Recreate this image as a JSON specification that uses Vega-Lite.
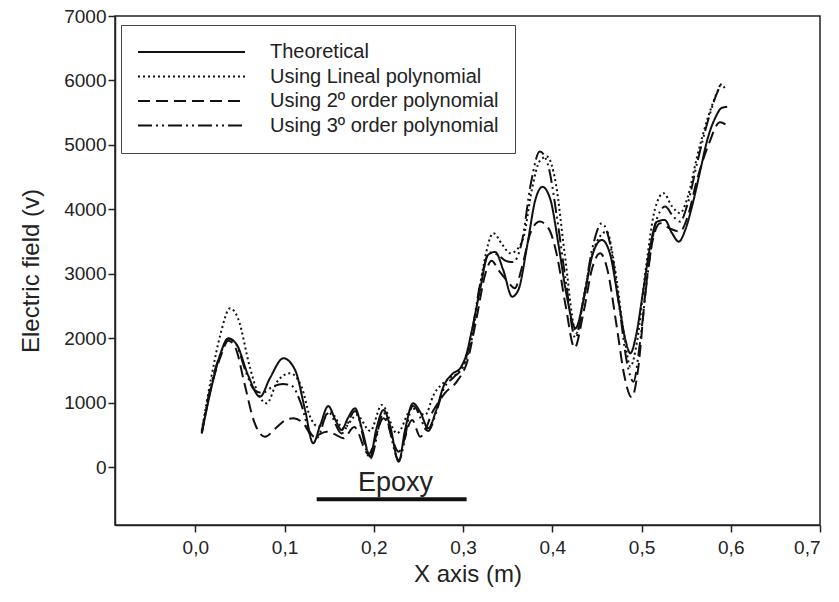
{
  "$schema": "https://vega.github.io/schema/vega-lite/v6.json",
  "width": 705,
  "height": 509,
  "autosize": {"type": "none"},
  "padding": {"left": 115, "top": 16, "right": 19, "bottom": 77},
  "background": "white",
  "config": {
    "font": "Liberation Sans",
    "view": {"stroke": "#222", "strokeWidth": 1.5},
    "axis": {"grid": false, "domainColor": "#222", "domainWidth": 1.5, "tickColor": "#222", "tickWidth": 1.5, "tickSize": 7, "labelColor": "#222", "titleColor": "#222", "labelFontSize": 19, "titleFontSize": 24, "titleFontWeight": "normal", "labelFont": "Liberation Sans", "titleFont": "Liberation Sans"}
  },
  "datasets": {
    "curves": [
      {"x": 0.0072, "y": 523, "s": "Theoretical"},
      {"x": 0.0187, "y": 1273, "s": "Theoretical"},
      {"x": 0.0277, "y": 1739, "s": "Theoretical"},
      {"x": 0.037, "y": 1998, "s": "Theoretical"},
      {"x": 0.0467, "y": 1894, "s": "Theoretical"},
      {"x": 0.059, "y": 1429, "s": "Theoretical"},
      {"x": 0.0725, "y": 1092, "s": "Theoretical"},
      {"x": 0.0837, "y": 1382, "s": "Theoretical"},
      {"x": 0.0987, "y": 1688, "s": "Theoretical"},
      {"x": 0.1118, "y": 1506, "s": "Theoretical"},
      {"x": 0.123, "y": 885, "s": "Theoretical"},
      {"x": 0.132, "y": 368, "s": "Theoretical"},
      {"x": 0.14, "y": 652, "s": "Theoretical"},
      {"x": 0.149, "y": 947, "s": "Theoretical"},
      {"x": 0.157, "y": 730, "s": "Theoretical"},
      {"x": 0.164, "y": 575, "s": "Theoretical"},
      {"x": 0.171, "y": 761, "s": "Theoretical"},
      {"x": 0.179, "y": 911, "s": "Theoretical"},
      {"x": 0.187, "y": 575, "s": "Theoretical"},
      {"x": 0.196, "y": 160, "s": "Theoretical"},
      {"x": 0.2026, "y": 575, "s": "Theoretical"},
      {"x": 0.211, "y": 885, "s": "Theoretical"},
      {"x": 0.218, "y": 652, "s": "Theoretical"},
      {"x": 0.228, "y": 82, "s": "Theoretical"},
      {"x": 0.235, "y": 575, "s": "Theoretical"},
      {"x": 0.244, "y": 989, "s": "Theoretical"},
      {"x": 0.252, "y": 854, "s": "Theoretical"},
      {"x": 0.261, "y": 601, "s": "Theoretical"},
      {"x": 0.27, "y": 885, "s": "Theoretical"},
      {"x": 0.278, "y": 1247, "s": "Theoretical"},
      {"x": 0.288, "y": 1444, "s": "Theoretical"},
      {"x": 0.297, "y": 1537, "s": "Theoretical"},
      {"x": 0.3035, "y": 1739, "s": "Theoretical"},
      {"x": 0.31, "y": 2127, "s": "Theoretical"},
      {"x": 0.319, "y": 2748, "s": "Theoretical"},
      {"x": 0.328, "y": 3292, "s": "Theoretical"},
      {"x": 0.336, "y": 3339, "s": "Theoretical"},
      {"x": 0.345, "y": 3059, "s": "Theoretical"},
      {"x": 0.355, "y": 2644, "s": "Theoretical"},
      {"x": 0.362, "y": 2748, "s": "Theoretical"},
      {"x": 0.372, "y": 3447, "s": "Theoretical"},
      {"x": 0.381, "y": 4146, "s": "Theoretical"},
      {"x": 0.389, "y": 4348, "s": "Theoretical"},
      {"x": 0.398, "y": 4146, "s": "Theoretical"},
      {"x": 0.407, "y": 3447, "s": "Theoretical"},
      {"x": 0.416, "y": 2671, "s": "Theoretical"},
      {"x": 0.426, "y": 2154, "s": "Theoretical"},
      {"x": 0.435, "y": 2593, "s": "Theoretical"},
      {"x": 0.445, "y": 3292, "s": "Theoretical"},
      {"x": 0.4556, "y": 3525, "s": "Theoretical"},
      {"x": 0.465, "y": 3292, "s": "Theoretical"},
      {"x": 0.474, "y": 2593, "s": "Theoretical"},
      {"x": 0.482, "y": 1972, "s": "Theoretical"},
      {"x": 0.4875, "y": 1766, "s": "Theoretical"},
      {"x": 0.494, "y": 2050, "s": "Theoretical"},
      {"x": 0.502, "y": 2748, "s": "Theoretical"},
      {"x": 0.51, "y": 3447, "s": "Theoretical"},
      {"x": 0.517, "y": 3804, "s": "Theoretical"},
      {"x": 0.526, "y": 3835, "s": "Theoretical"},
      {"x": 0.534, "y": 3634, "s": "Theoretical"},
      {"x": 0.5418, "y": 3498, "s": "Theoretical"},
      {"x": 0.549, "y": 3680, "s": "Theoretical"},
      {"x": 0.557, "y": 4068, "s": "Theoretical"},
      {"x": 0.566, "y": 4612, "s": "Theoretical"},
      {"x": 0.5737, "y": 5078, "s": "Theoretical"},
      {"x": 0.5826, "y": 5419, "s": "Theoretical"},
      {"x": 0.59, "y": 5575, "s": "Theoretical"},
      {"x": 0.596, "y": 5590, "s": "Theoretical"},

      {"x": 0.0072, "y": 560, "s": "Using Lineal polynomial"},
      {"x": 0.018, "y": 1400, "s": "Using Lineal polynomial"},
      {"x": 0.028, "y": 2050, "s": "Using Lineal polynomial"},
      {"x": 0.039, "y": 2464, "s": "Using Lineal polynomial"},
      {"x": 0.048, "y": 2300, "s": "Using Lineal polynomial"},
      {"x": 0.061, "y": 1557, "s": "Using Lineal polynomial"},
      {"x": 0.07, "y": 1150, "s": "Using Lineal polynomial"},
      {"x": 0.08, "y": 989, "s": "Using Lineal polynomial"},
      {"x": 0.092, "y": 1330, "s": "Using Lineal polynomial"},
      {"x": 0.106, "y": 1455, "s": "Using Lineal polynomial"},
      {"x": 0.119, "y": 1247, "s": "Using Lineal polynomial"},
      {"x": 0.1286, "y": 781, "s": "Using Lineal polynomial"},
      {"x": 0.138, "y": 626, "s": "Using Lineal polynomial"},
      {"x": 0.151, "y": 859, "s": "Using Lineal polynomial"},
      {"x": 0.166, "y": 601, "s": "Using Lineal polynomial"},
      {"x": 0.181, "y": 807, "s": "Using Lineal polynomial"},
      {"x": 0.196, "y": 560, "s": "Using Lineal polynomial"},
      {"x": 0.209, "y": 963, "s": "Using Lineal polynomial"},
      {"x": 0.226, "y": 523, "s": "Using Lineal polynomial"},
      {"x": 0.243, "y": 911, "s": "Using Lineal polynomial"},
      {"x": 0.2575, "y": 807, "s": "Using Lineal polynomial"},
      {"x": 0.267, "y": 1118, "s": "Using Lineal polynomial"},
      {"x": 0.282, "y": 1351, "s": "Using Lineal polynomial"},
      {"x": 0.297, "y": 1506, "s": "Using Lineal polynomial"},
      {"x": 0.31, "y": 2000, "s": "Using Lineal polynomial"},
      {"x": 0.32, "y": 2900, "s": "Using Lineal polynomial"},
      {"x": 0.334, "y": 3629, "s": "Using Lineal polynomial"},
      {"x": 0.344, "y": 3450, "s": "Using Lineal polynomial"},
      {"x": 0.353, "y": 3318, "s": "Using Lineal polynomial"},
      {"x": 0.362, "y": 3400, "s": "Using Lineal polynomial"},
      {"x": 0.368, "y": 3576, "s": "Using Lineal polynomial"},
      {"x": 0.377, "y": 4300, "s": "Using Lineal polynomial"},
      {"x": 0.386, "y": 4750, "s": "Using Lineal polynomial"},
      {"x": 0.394, "y": 4818, "s": "Using Lineal polynomial"},
      {"x": 0.404, "y": 4400, "s": "Using Lineal polynomial"},
      {"x": 0.414, "y": 3300, "s": "Using Lineal polynomial"},
      {"x": 0.427, "y": 2080, "s": "Using Lineal polynomial"},
      {"x": 0.436, "y": 2700, "s": "Using Lineal polynomial"},
      {"x": 0.447, "y": 3400, "s": "Using Lineal polynomial"},
      {"x": 0.461, "y": 3654, "s": "Using Lineal polynomial"},
      {"x": 0.47, "y": 3100, "s": "Using Lineal polynomial"},
      {"x": 0.48, "y": 2100, "s": "Using Lineal polynomial"},
      {"x": 0.4875, "y": 1558, "s": "Using Lineal polynomial"},
      {"x": 0.495, "y": 1950, "s": "Using Lineal polynomial"},
      {"x": 0.505, "y": 3100, "s": "Using Lineal polynomial"},
      {"x": 0.515, "y": 4000, "s": "Using Lineal polynomial"},
      {"x": 0.5247, "y": 4250, "s": "Using Lineal polynomial"},
      {"x": 0.534, "y": 4050, "s": "Using Lineal polynomial"},
      {"x": 0.543, "y": 3940, "s": "Using Lineal polynomial"},
      {"x": 0.552, "y": 4200, "s": "Using Lineal polynomial"},
      {"x": 0.562, "y": 4800, "s": "Using Lineal polynomial"},
      {"x": 0.575, "y": 5450, "s": "Using Lineal polynomial"},
      {"x": 0.589, "y": 5958, "s": "Using Lineal polynomial"},

      {"x": 0.0072, "y": 520, "s": "Using 2º order polynomial"},
      {"x": 0.018, "y": 1250, "s": "Using 2º order polynomial"},
      {"x": 0.028, "y": 1700, "s": "Using 2º order polynomial"},
      {"x": 0.037, "y": 1960, "s": "Using 2º order polynomial"},
      {"x": 0.045, "y": 1850, "s": "Using 2º order polynomial"},
      {"x": 0.055, "y": 1300, "s": "Using 2º order polynomial"},
      {"x": 0.066, "y": 700, "s": "Using 2º order polynomial"},
      {"x": 0.078, "y": 470, "s": "Using 2º order polynomial"},
      {"x": 0.09, "y": 600, "s": "Using 2º order polynomial"},
      {"x": 0.1, "y": 720, "s": "Using 2º order polynomial"},
      {"x": 0.11, "y": 756, "s": "Using 2º order polynomial"},
      {"x": 0.121, "y": 678, "s": "Using 2º order polynomial"},
      {"x": 0.132, "y": 470, "s": "Using 2º order polynomial"},
      {"x": 0.147, "y": 548, "s": "Using 2º order polynomial"},
      {"x": 0.156, "y": 510, "s": "Using 2º order polynomial"},
      {"x": 0.166, "y": 446, "s": "Using 2º order polynomial"},
      {"x": 0.178, "y": 620, "s": "Using 2º order polynomial"},
      {"x": 0.194, "y": 200, "s": "Using 2º order polynomial"},
      {"x": 0.211, "y": 756, "s": "Using 2º order polynomial"},
      {"x": 0.228, "y": 238, "s": "Using 2º order polynomial"},
      {"x": 0.243, "y": 730, "s": "Using 2º order polynomial"},
      {"x": 0.252, "y": 470, "s": "Using 2º order polynomial"},
      {"x": 0.267, "y": 885, "s": "Using 2º order polynomial"},
      {"x": 0.28, "y": 1150, "s": "Using 2º order polynomial"},
      {"x": 0.293, "y": 1325, "s": "Using 2º order polynomial"},
      {"x": 0.305, "y": 1650, "s": "Using 2º order polynomial"},
      {"x": 0.315, "y": 2300, "s": "Using 2º order polynomial"},
      {"x": 0.325, "y": 3000, "s": "Using 2º order polynomial"},
      {"x": 0.332, "y": 3200, "s": "Using 2º order polynomial"},
      {"x": 0.34, "y": 3050, "s": "Using 2º order polynomial"},
      {"x": 0.35, "y": 2880, "s": "Using 2º order polynomial"},
      {"x": 0.358, "y": 2775, "s": "Using 2º order polynomial"},
      {"x": 0.366, "y": 3100, "s": "Using 2º order polynomial"},
      {"x": 0.376, "y": 3650, "s": "Using 2º order polynomial"},
      {"x": 0.386, "y": 3809, "s": "Using 2º order polynomial"},
      {"x": 0.396, "y": 3700, "s": "Using 2º order polynomial"},
      {"x": 0.405, "y": 3300, "s": "Using 2º order polynomial"},
      {"x": 0.415, "y": 2500, "s": "Using 2º order polynomial"},
      {"x": 0.425, "y": 1850, "s": "Using 2º order polynomial"},
      {"x": 0.435, "y": 2400, "s": "Using 2º order polynomial"},
      {"x": 0.445, "y": 3100, "s": "Using 2º order polynomial"},
      {"x": 0.4537, "y": 3318, "s": "Using 2º order polynomial"},
      {"x": 0.462, "y": 3050, "s": "Using 2º order polynomial"},
      {"x": 0.472, "y": 2200, "s": "Using 2º order polynomial"},
      {"x": 0.481, "y": 1400, "s": "Using 2º order polynomial"},
      {"x": 0.489, "y": 1080, "s": "Using 2º order polynomial"},
      {"x": 0.496, "y": 1500, "s": "Using 2º order polynomial"},
      {"x": 0.505, "y": 2800, "s": "Using 2º order polynomial"},
      {"x": 0.513, "y": 3550, "s": "Using 2º order polynomial"},
      {"x": 0.521, "y": 3784, "s": "Using 2º order polynomial"},
      {"x": 0.532, "y": 3700, "s": "Using 2º order polynomial"},
      {"x": 0.543, "y": 3654, "s": "Using 2º order polynomial"},
      {"x": 0.552, "y": 3900, "s": "Using 2º order polynomial"},
      {"x": 0.562, "y": 4450, "s": "Using 2º order polynomial"},
      {"x": 0.575, "y": 5000, "s": "Using 2º order polynomial"},
      {"x": 0.588, "y": 5350, "s": "Using 2º order polynomial"},
      {"x": 0.596, "y": 5300, "s": "Using 2º order polynomial"},

      {"x": 0.0072, "y": 540, "s": "Using 3º order polynomial"},
      {"x": 0.018, "y": 1300, "s": "Using 3º order polynomial"},
      {"x": 0.028, "y": 1750, "s": "Using 3º order polynomial"},
      {"x": 0.037, "y": 1990, "s": "Using 3º order polynomial"},
      {"x": 0.046, "y": 1900, "s": "Using 3º order polynomial"},
      {"x": 0.056, "y": 1500, "s": "Using 3º order polynomial"},
      {"x": 0.066, "y": 1200, "s": "Using 3º order polynomial"},
      {"x": 0.075, "y": 1150, "s": "Using 3º order polynomial"},
      {"x": 0.087, "y": 1250, "s": "Using 3º order polynomial"},
      {"x": 0.098, "y": 1290, "s": "Using 3º order polynomial"},
      {"x": 0.108, "y": 1260, "s": "Using 3º order polynomial"},
      {"x": 0.118, "y": 1000, "s": "Using 3º order polynomial"},
      {"x": 0.128, "y": 550, "s": "Using 3º order polynomial"},
      {"x": 0.136, "y": 450, "s": "Using 3º order polynomial"},
      {"x": 0.149, "y": 850, "s": "Using 3º order polynomial"},
      {"x": 0.164, "y": 520, "s": "Using 3º order polynomial"},
      {"x": 0.179, "y": 870, "s": "Using 3º order polynomial"},
      {"x": 0.196, "y": 130, "s": "Using 3º order polynomial"},
      {"x": 0.211, "y": 840, "s": "Using 3º order polynomial"},
      {"x": 0.228, "y": 110, "s": "Using 3º order polynomial"},
      {"x": 0.244, "y": 950, "s": "Using 3º order polynomial"},
      {"x": 0.261, "y": 560, "s": "Using 3º order polynomial"},
      {"x": 0.27, "y": 850, "s": "Using 3º order polynomial"},
      {"x": 0.278, "y": 1200, "s": "Using 3º order polynomial"},
      {"x": 0.29, "y": 1400, "s": "Using 3º order polynomial"},
      {"x": 0.3, "y": 1550, "s": "Using 3º order polynomial"},
      {"x": 0.31, "y": 2100, "s": "Using 3º order polynomial"},
      {"x": 0.32, "y": 2900, "s": "Using 3º order polynomial"},
      {"x": 0.33, "y": 3330, "s": "Using 3º order polynomial"},
      {"x": 0.338, "y": 3300, "s": "Using 3º order polynomial"},
      {"x": 0.348, "y": 3200, "s": "Using 3º order polynomial"},
      {"x": 0.356, "y": 3180, "s": "Using 3º order polynomial"},
      {"x": 0.366, "y": 3500, "s": "Using 3º order polynomial"},
      {"x": 0.376, "y": 4400, "s": "Using 3º order polynomial"},
      {"x": 0.386, "y": 4896, "s": "Using 3º order polynomial"},
      {"x": 0.395, "y": 4700, "s": "Using 3º order polynomial"},
      {"x": 0.405, "y": 3900, "s": "Using 3º order polynomial"},
      {"x": 0.415, "y": 2900, "s": "Using 3º order polynomial"},
      {"x": 0.426, "y": 2000, "s": "Using 3º order polynomial"},
      {"x": 0.435, "y": 2600, "s": "Using 3º order polynomial"},
      {"x": 0.445, "y": 3400, "s": "Using 3º order polynomial"},
      {"x": 0.4556, "y": 3784, "s": "Using 3º order polynomial"},
      {"x": 0.465, "y": 3450, "s": "Using 3º order polynomial"},
      {"x": 0.475, "y": 2500, "s": "Using 3º order polynomial"},
      {"x": 0.484, "y": 1600, "s": "Using 3º order polynomial"},
      {"x": 0.491, "y": 1325, "s": "Using 3º order polynomial"},
      {"x": 0.498, "y": 1900, "s": "Using 3º order polynomial"},
      {"x": 0.507, "y": 3000, "s": "Using 3º order polynomial"},
      {"x": 0.516, "y": 3800, "s": "Using 3º order polynomial"},
      {"x": 0.5266, "y": 4042, "s": "Using 3º order polynomial"},
      {"x": 0.535, "y": 3900, "s": "Using 3º order polynomial"},
      {"x": 0.543, "y": 3809, "s": "Using 3º order polynomial"},
      {"x": 0.552, "y": 4100, "s": "Using 3º order polynomial"},
      {"x": 0.562, "y": 4700, "s": "Using 3º order polynomial"},
      {"x": 0.575, "y": 5400, "s": "Using 3º order polynomial"},
      {"x": 0.586, "y": 5850, "s": "Using 3º order polynomial"},
      {"x": 0.59, "y": 5950, "s": "Using 3º order polynomial"},
      {"x": 0.593, "y": 5880, "s": "Using 3º order polynomial"}
    ],
    "epoxy": [{"x": 0.136, "x2": 0.304, "y": -500, "tx": 0.2244, "ty": -368, "label": "Epoxy"}]
  },
  "layer": [
    {
      "data": {"name": "curves"},
      "mark": {"type": "line", "interpolate": "monotone", "strokeWidth": 2, "color": "#111"},
      "encoding": {
        "x": {"field": "x", "type": "quantitative", "scale": {"domain": [-0.09, 0.7], "nice": false, "zero": false},
              "axis": {"values": [0, 0.1, 0.2, 0.3, 0.4, 0.5, 0.6, 0.7], "labelExpr": "replace(format(datum.value, '.1f'), '.', ',')", "title": "X axis (m)", "labelPadding": 6, "titlePadding": 5}},
        "y": {"field": "y", "type": "quantitative", "scale": {"domain": [-900, 7000], "nice": false, "zero": false},
              "axis": {"values": [0, 1000, 2000, 3000, 4000, 5000, 6000, 7000], "format": "d", "title": "Electric field (v)", "labelPadding": 2, "titlePadding": 20}},
        "strokeDash": {"field": "s", "type": "nominal",
          "scale": {"domain": ["Theoretical", "Using Lineal polynomial", "Using 2º order polynomial", "Using 3º order polynomial"],
                    "range": [[1, 0], [2, 3], [12, 6], [14, 4, 2, 4, 2, 4]]},
          "legend": {"orient": "none", "legendX": 6, "legendY": 9, "title": null, "symbolType": "stroke", "symbolSize": 11449, "symbolStrokeWidth": 2, "symbolStrokeColor": "#111", "clipHeight": 22, "rowPadding": 2.5, "padding": 16, "labelOffset": 24, "labelFontSize": 20, "labelColor": "#222", "labelFont": "Liberation Sans", "strokeColor": "#444", "fillColor": "white", "labelLimit": 400}}
      }
    },
    {
      "data": {"name": "epoxy"},
      "mark": {"type": "rule", "strokeWidth": 4, "color": "#111"},
      "encoding": {"x": {"field": "x", "type": "quantitative"}, "x2": {"field": "x2"}, "y": {"field": "y", "type": "quantitative"}}
    },
    {
      "data": {"name": "epoxy"},
      "mark": {"type": "text", "fontSize": 27, "color": "#222", "baseline": "alphabetic", "align": "center"},
      "encoding": {"x": {"field": "tx", "type": "quantitative"}, "y": {"field": "ty", "type": "quantitative"}, "text": {"field": "label"}}
    }
  ]
}
